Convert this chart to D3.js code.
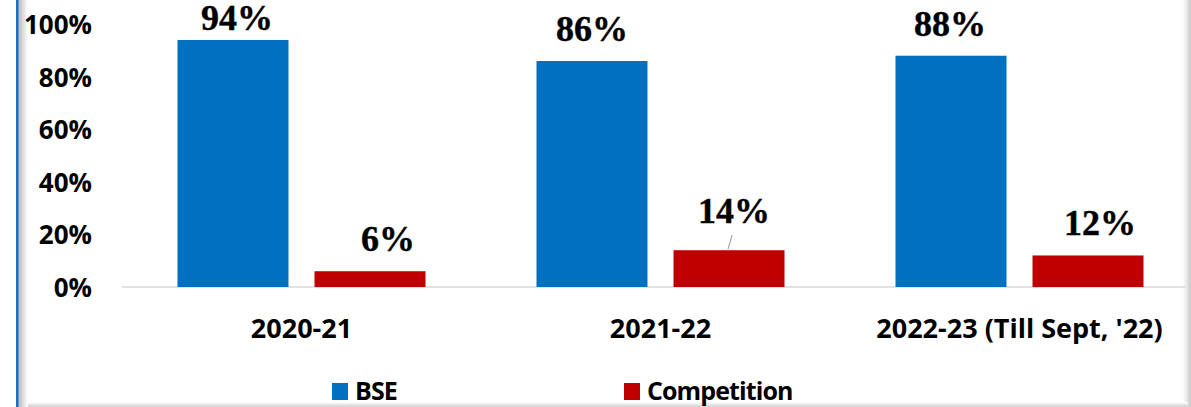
<!DOCTYPE html>
<html>
<head>
<meta charset="utf-8">
<script src="https://cdn.jsdelivr.net/npm/d3@7"></script>
<style>
  html, body { margin: 0; padding: 0; background: #fff; }
  svg { display: block; }
</style>
</head>
<body>
<div id="chart"></div>
<script>
// chart data
const categories = ['2020-21', '2021-22', "2022-23 (Till Sept, '22)"];
const seriesNames = ['BSE', 'Competition'];
const bseValues = [0.94, 0.86, 0.88];
const competitionValues = [0.06, 0.14, 0.12];
const yTicks = [0, 0.2, 0.4, 0.6, 0.8, 1.0];

const colors = {BSE: '#0070C0', Competition: '#C00000'};
const width = 1191;
const height = 407;

// label nudges (dx, dy) copied from the original layout
const labelNudge = {
  BSE: [[4, 10], [0, 0], [-1, 0]],
  Competition: [[18, 0], [5, -7], [12, 0]]
};

const svg = d3.select('#chart')
  .append('svg')
  .attr('width', width)
  .attr('height', height);

// frame shadows
const defs = svg.append('defs');
const gLeft = defs.append('linearGradient').attr('id', 'shadowLeft')
  .attr('x1', 0).attr('x2', 1).attr('y1', 0).attr('y2', 0);
gLeft.append('stop').attr('offset', 0).attr('stop-color', '#b8b8b8');
gLeft.append('stop').attr('offset', 1).attr('stop-color', '#fff');
const gRight = defs.append('linearGradient').attr('id', 'shadowRight')
  .attr('x1', 0).attr('x2', 1).attr('y1', 0).attr('y2', 0);
gRight.append('stop').attr('offset', 0).attr('stop-color', '#fff');
gRight.append('stop').attr('offset', 1).attr('stop-color', '#c8c8c8');
const gBottom = defs.append('linearGradient').attr('id', 'shadowBottom')
  .attr('x1', 0).attr('x2', 0).attr('y1', 0).attr('y2', 1);
gBottom.append('stop').attr('offset', 0).attr('stop-color', '#fff');
gBottom.append('stop').attr('offset', 1).attr('stop-color', '#d0d0d0');

svg.append('rect').attr('x', 18).attr('y', 0).attr('width', 10).attr('height', height)
  .attr('fill', 'url(#shadowLeft)');
svg.append('rect').attr('x', 1183).attr('y', 0).attr('width', 8).attr('height', height)
  .attr('fill', 'url(#shadowRight)');
svg.append('rect').attr('x', 28).attr('y', 402).attr('width', 1160).attr('height', 5)
  .attr('fill', 'url(#shadowBottom)');
svg.append('rect').attr('x', 16).attr('y', 0).attr('width', 2.5).attr('height', height)
  .attr('fill', '#1F6FC0');

// scales
const y = d3.scaleLinear().domain([0, 1]).range([287, 24.2]);
const x0 = d3.scaleBand().domain(categories).range([122, 1199])
  .paddingInner(0).paddingOuter(0);
const x1 = d3.scaleBand().domain(seriesNames).range([0, x0.bandwidth()])
  .paddingInner(0.19).paddingOuter(0.405);

const rows = categories.map(function (c, i) {
  return {category: c, BSE: bseValues[i], Competition: competitionValues[i], index: i};
});

// y axis labels
const yAxis = d3.axisLeft(y)
  .tickValues(yTicks)
  .tickFormat(d3.format('.0%'))
  .tickSize(0)
  .tickPadding(0);
const yG = svg.append('g')
  .attr('transform', 'translate(92,0)')
  .call(yAxis);
yG.select('.domain').remove();
yG.selectAll('text')
  .attr('font-family', '"Open Sans", sans-serif')
  .attr('font-weight', 'bold')
  .attr('font-size', 26)
  .attr('fill', '#000')
  .attr('dy', '0.36em');

// baseline
svg.append('line')
  .attr('x1', 122).attr('x2', 1185)
  .attr('y1', y(0)).attr('y2', y(0))
  .attr('stroke', '#D9D9D9')
  .attr('stroke-width', 1.5);

// bars
const groups = svg.selectAll('g.group')
  .data(rows)
  .enter()
  .append('g')
  .attr('class', 'group')
  .attr('transform', function (d) { return 'translate(' + x0(d.category) + ',0)'; });

groups.selectAll('rect')
  .data(function (d) {
    return seriesNames.map(function (s) { return {series: s, value: d[s], index: d.index}; });
  })
  .enter()
  .append('rect')
  .attr('x', function (d) { return x1(d.series); })
  .attr('y', function (d) { return y(d.value); })
  .attr('width', x1.bandwidth())
  .attr('height', function (d) { return y(0) - y(d.value); })
  .attr('fill', function (d) { return colors[d.series]; });

// data labels
groups.each(function (row) {
  const g = d3.select(this);
  seriesNames.forEach(function (s) {
    const cx = x1(s) + x1.bandwidth() / 2;
    const top = y(row[s]);
    const nudge = labelNudge[s][row.index];
    const lx = cx + nudge[0];
    const ly = top - 20 + nudge[1];
    g.append('text')
      .attr('x', lx)
      .attr('y', ly)
      .attr('text-anchor', 'middle')
      .attr('font-family', '"Liberation Serif", "Times New Roman", serif')
      .attr('font-weight', 'bold')
      .attr('font-size', 36)
      .attr('fill', '#000')
      .attr('stroke', '#000')
      .attr('stroke-width', 0.4)
      .text(d3.format('.0%')(row[s]));
    // leader line when the label was dragged away from the bar
    if (nudge[1] < 0) {
      g.append('line')
        .attr('x1', lx - 2).attr('y1', ly + 12)
        .attr('x2', cx - 1).attr('y2', top - 1)
        .attr('stroke', '#A6A6A6')
        .attr('stroke-width', 1.2);
    }
  });
});

// category labels
svg.selectAll('text.cat')
  .data(categories)
  .enter()
  .append('text')
  .attr('class', 'cat')
  .attr('x', function (d) { return x0(d) + x0.bandwidth() / 2; })
  .attr('y', 338)
  .attr('text-anchor', 'middle')
  .attr('font-family', '"Open Sans", sans-serif')
  .attr('font-weight', 'bold')
  .attr('font-size', 27)
  .attr('fill', '#000')
  .text(function (d) { return d; });

// legend
const legendX = {BSE: 332, Competition: 624};
const legend = svg.selectAll('g.legend')
  .data(seriesNames)
  .enter()
  .append('g')
  .attr('class', 'legend')
  .attr('transform', function (d) { return 'translate(' + legendX[d] + ',383)'; });
legend.append('rect')
  .attr('width', 16)
  .attr('height', 17)
  .attr('fill', function (d) { return colors[d]; });
legend.append('text')
  .attr('x', 23)
  .attr('y', 17)
  .attr('font-family', '"Open Sans", sans-serif')
  .attr('font-weight', 'bold')
  .attr('font-size', 25)
  .attr('letter-spacing', -0.9)
  .attr('fill', '#000')
  .text(function (d) { return d; });
</script>
</body>
</html>
